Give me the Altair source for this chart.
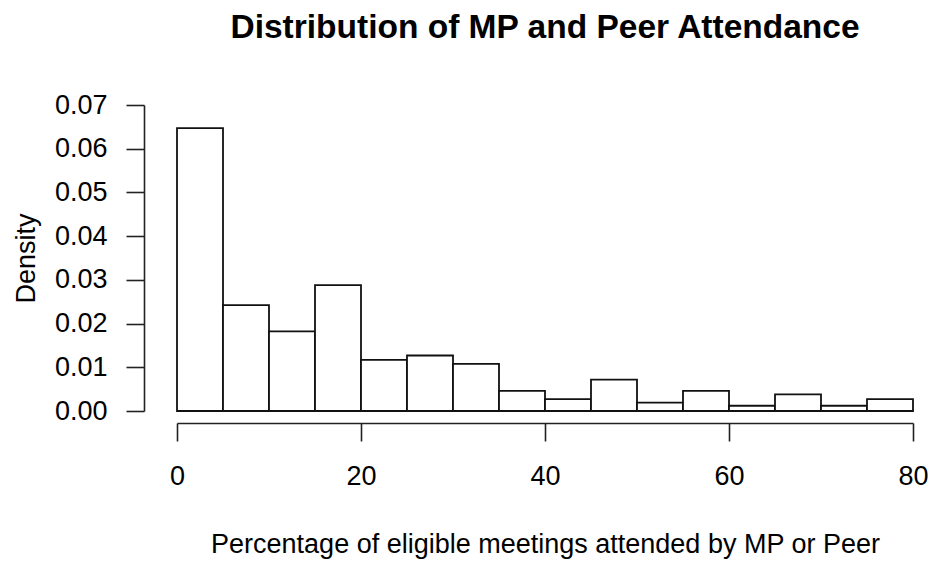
import altair as alt
import pandas as pd

bin_start = [0, 5, 10, 15, 20, 25, 30, 35, 40, 45, 50, 55, 60, 65, 70, 75]
bin_end = [5, 10, 15, 20, 25, 30, 35, 40, 45, 50, 55, 60, 65, 70, 75, 80]
density = [0.0647, 0.0242, 0.0182, 0.0288, 0.0117, 0.0127, 0.0108, 0.0046,
           0.0027, 0.0072, 0.0019, 0.0046, 0.0012, 0.0038, 0.0012, 0.0027]

x_ticks = [0, 20, 40, 60, 80]
y_ticks = [0, 0.01, 0.02, 0.03, 0.04, 0.05, 0.06, 0.07]

df = pd.DataFrame({"start": bin_start, "end": bin_end, "density": density})

FONT = "Liberation Sans"

chart = alt.Chart(df).mark_rect(
    fill="white", stroke="#111", strokeWidth=1.8
).encode(
    x=alt.X("start:Q",
            scale=alt.Scale(domain=[0, 80], nice=False, zero=False),
            axis=alt.Axis(values=x_ticks, format="d", grid=False, offset=12,
                          tickSize=18, labelPadding=22, labelFontSize=27,
                          labelFlush=False,
                          labelFont=FONT, labelColor="black",
                          domainColor="#222", tickColor="#222",
                          domainWidth=1.6, tickWidth=1.6,
                          title="Percentage of eligible meetings attended by MP or Peer",
                          titleFont=FONT, titleFontSize=27, titleFontWeight="normal",
                          titleColor="black", titlePadding=42)),
    x2="end:Q",
    y=alt.Y("density:Q",
            scale=alt.Scale(domain=[0, 0.07], nice=False),
            axis=alt.Axis(values=y_ticks, format=".2f", grid=False, offset=33,
                          tickSize=18, labelPadding=19, labelFontSize=27,
                          labelFont=FONT, labelColor="black",
                          domainColor="#222", tickColor="#222",
                          domainWidth=1.6, tickWidth=1.6,
                          title="Density", titleFont=FONT, titleFontSize=27,
                          titleFontWeight="normal", titleColor="black",
                          titlePadding=14)),
    y2=alt.datum(0),
).properties(
    width=736,
    height=306,
    title=alt.TitleParams(
        "Distribution of MP and Peer Attendance",
        font=FONT, fontSize=33.5, fontWeight="bold", color="black",
        anchor="middle", offset=46,
    ),
    autosize=alt.AutoSizeParams(type="none"),
    padding={"left": 169, "top": 97, "right": 16, "bottom": 152},
).configure_view(stroke=None)

chart.save("out.html", embed_options={"renderer": "svg", "actions": False})
